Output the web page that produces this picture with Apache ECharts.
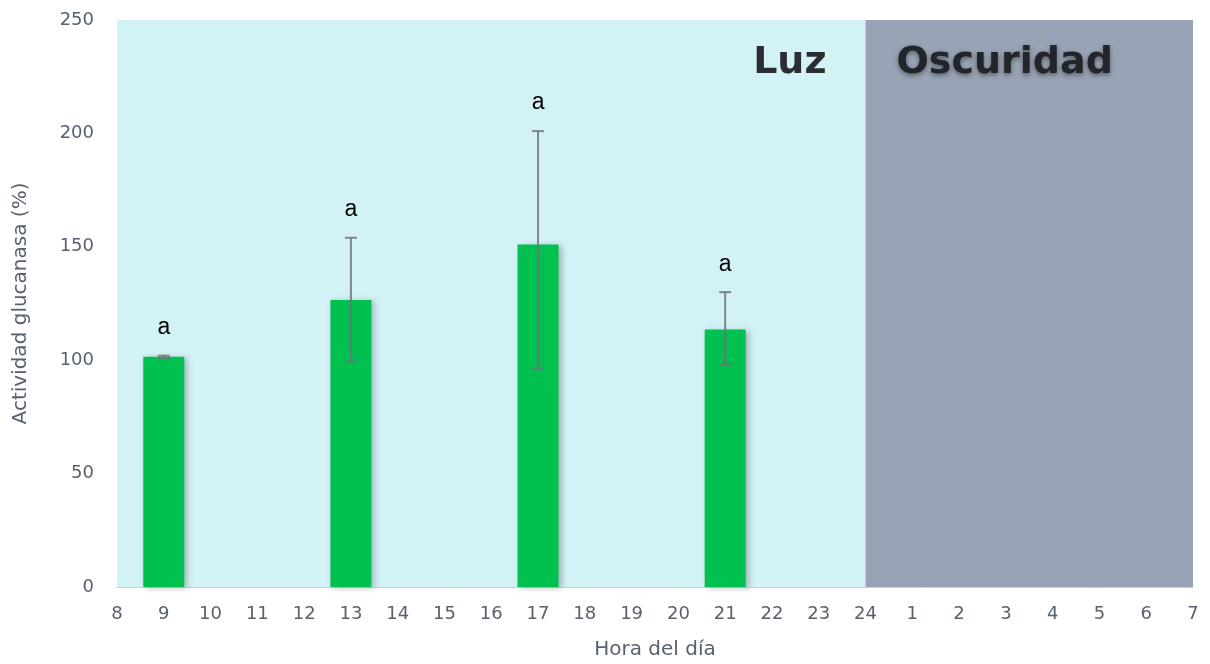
<!DOCTYPE html>
<html>
<head>
<meta charset="utf-8">
<script src="https://cdn.jsdelivr.net/npm/echarts@6/dist/echarts.min.js"></script>
<style>
  html, body { margin: 0; padding: 0; background: #ffffff; }
  #chart { width: 1210px; height: 664px; }
</style>
</head>
<body>
<div id="chart"></div>
<script>
// Sampling hours (clock hour of the day)
const hours = [9, 13, 17, 21];
// Mean glucanase activity (%)
const activity = [101.5, 126.5, 151, 113.5];
// Error bar limits (%)
const errLow = [101, 99.5, 96, 98];
const errHigh = [102, 154, 201, 130];
// Significance letters
const letters = ['a', 'a', 'a', 'a'];
// Photoperiod segments on the hour axis (hours after 24 continue as 25..31)
const lightPeriod = [8, 24];
const darkPeriod = [24, 31];
const periodNames = ['Luz', 'Oscuridad'];

const axisColor = '#56626f';
const axisFont = 'DejaVu Sans';
const chart = echarts.init(document.getElementById('chart'), null, { renderer: 'canvas' });

const barData = hours.map((h, i) => [h, activity[i]]);
const errData = hours.map((h, i) => [h, errLow[i], errHigh[i], i]);

chart.setOption({
  animation: false,
  grid: { left: 117, right: 17, top: 20, bottom: 77, containLabel: false, outerBoundsMode: 'none' },
  xAxis: {
    type: 'value',
    min: 8, max: 31, interval: 1,
    name: 'Hora del día',
    nameLocation: 'middle',
    nameGap: 53,
    nameTextStyle: { color: axisColor, fontFamily: axisFont, fontSize: 20 },
    axisLine: { show: true, lineStyle: { color: '#c9d0d6', width: 1 } },
    axisTick: { show: false },
    splitLine: { show: false },
    axisLabel: {
      color: axisColor, fontFamily: axisFont, fontSize: 18, margin: 18,
      formatter: v => String(v > 24 ? v - 24 : v)
    }
  },
  yAxis: {
    type: 'value',
    min: 0, max: 250, interval: 50,
    name: 'Actividad glucanasa (%)',
    nameLocation: 'middle',
    nameGap: 86,
    nameRotate: 90,
    nameTextStyle: { color: axisColor, fontFamily: axisFont, fontSize: 20 },
    axisLine: { show: true, lineStyle: { color: '#b8c0c8', width: 1 } },
    axisTick: { show: false },
    splitLine: { show: false },
    axisLabel: { color: axisColor, fontFamily: axisFont, fontSize: 18, margin: 23 }
  },
  series: [
    {
      type: 'bar',
      data: barData,
      barWidth: 41,
      z: 3,
      itemStyle: {
        color: '#00c050',
        shadowColor: 'rgba(0,0,0,0.25)',
        shadowBlur: 6,
        shadowOffsetX: 3,
        shadowOffsetY: 1
      },
      markArea: {
        silent: true,
        z: 1,
        data: [
          [
            {
              xAxis: lightPeriod[0], yAxis: 250,
              itemStyle: { color: '#d3f2f5' },
              label: {
                show: true, formatter: periodNames[0], position: 'insideTopRight',
                offset: [-34, 19], color: '#2a2e33',
                fontFamily: 'DejaVu Sans', fontWeight: 'bold', fontSize: 38
              }
            },
            { xAxis: lightPeriod[1], yAxis: 0 }
          ],
          [
            {
              xAxis: darkPeriod[0], yAxis: 250,
              itemStyle: { color: '#98a4b5' },
              label: {
                show: true, formatter: periodNames[1], position: 'insideTopLeft',
                offset: [26, 19], color: '#22262b',
                fontFamily: 'DejaVu Sans', fontWeight: 'bold', fontSize: 38,
                textShadowColor: 'rgba(0,0,0,0.45)', textShadowBlur: 5, textShadowOffsetY: 2
              }
            },
            { xAxis: darkPeriod[1], yAxis: 0 }
          ]
        ]
      }
    },
    {
      type: 'custom',
      z: 4,
      data: errData,
      renderItem: function (params, api) {
        const x = api.value(0);
        const lo = api.coord([x, api.value(1)]);
        const hi = api.coord([x, api.value(2)]);
        const idx = api.value(3);
        const half = 6;
        const stroke = { stroke: 'rgba(110,115,120,0.85)', lineWidth: 2 };
        return {
          type: 'group',
          children: [
            { type: 'line', shape: { x1: hi[0], y1: hi[1], x2: lo[0], y2: lo[1] }, style: stroke },
            { type: 'line', shape: { x1: hi[0] - half, y1: hi[1], x2: hi[0] + half, y2: hi[1] }, style: stroke },
            { type: 'line', shape: { x1: lo[0] - half, y1: lo[1], x2: lo[0] + half, y2: lo[1] }, style: stroke },
            {
              type: 'text',
              style: {
                text: letters[idx], x: hi[0], y: hi[1] - 28,
                textAlign: 'center', textVerticalAlign: 'middle',
                fill: '#000000', font: '23px "Liberation Sans"'
              }
            }
          ]
        };
      }
    }
  ]
});
</script>
</body>
</html>
